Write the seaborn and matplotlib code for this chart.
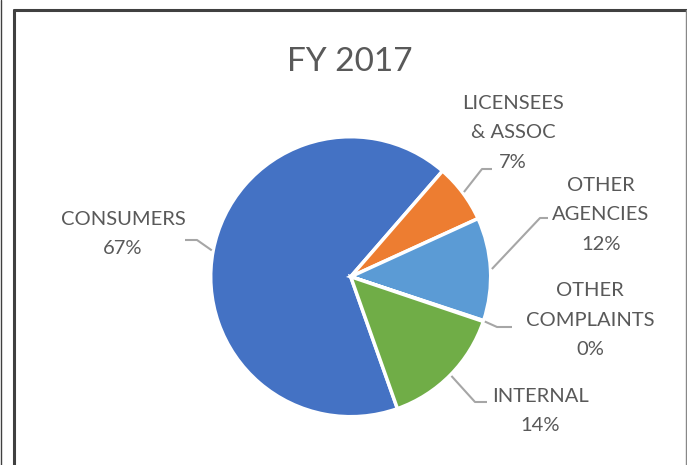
import matplotlib
matplotlib.use("Agg")
import matplotlib.pyplot as plt
import numpy as np
import seaborn as sns
from matplotlib.lines import Line2D

# data (share of complaints, FY 2017)
categories = ["CONSUMERS", "LICENSEES\n& ASSOC", "OTHER\nAGENCIES", "OTHER\nCOMPLAINTS", "INTERNAL"]
shares = [66.8, 6.8, 11.9, 0.1, 14.4]
colors = ["#4472C4", "#ED7D31", "#5B9BD5", "#A5A5A5", "#70AD47"]
title = "FY 2017"

sns.set_theme(style="white")
plt.rcParams["font.family"] = ["Lato", "DejaVu Sans"]

W, H = 687, 465
fig = plt.figure(figsize=(W / 100, H / 100), dpi=100)
ax = fig.add_axes([0, 0, 1, 1])
ax.set_xlim(0, W)
ax.set_ylim(0, H)
ax.set_aspect("equal")
ax.axis("off")

# pie geometry in pixel space (y measured from top of image)
cx, cy, r = 350.7, 276.7, 140
wedges, _ = ax.pie(shares, colors=colors, startangle=-70.5, counterclock=False,
                   center=(cx, H - cy), radius=r,
                   wedgeprops=dict(edgecolor="white", linewidth=2.5))
ax.set_xlim(0, W)
ax.set_ylim(0, H)

# label layout: text center (x, y), elbow (x, y), leader end x
layout = [
    (123, 234, 197, 240, 185),
    (513, 133, 482, 169, 492),
    (601, 215, 540, 218, 548),
    (590, 320, 497, 327, 512),
    (540, 411, 475, 402, 487),
]
grey = "#595959"
for w, cat, val, (tx, ty, ex, ey, endx) in zip(wedges, categories, shares, layout):
    mid = np.deg2rad((w.theta1 + w.theta2) / 2)
    sx = cx + r * 1.01 * np.cos(mid)
    sy = cy - r * 1.01 * np.sin(mid)
    ax.plot([sx, ex, endx], [H - sy, H - ey, H - ey], color="#A6A6A6", lw=1.5,
            solid_capstyle="butt")
    ax.text(tx, H - ty, f"{cat}\n{round(val):.0f}%", ha="center", va="center",
            fontsize=14.5, color=grey, linespacing=1.9)

ax.text(W / 2 + 6, H - 62, title, ha="center", va="center", fontsize=24, color=grey)

# chart frame
frame = dict(transform=fig.transFigure, figure=fig)
fig.lines.append(Line2D([13.5 / W, 13.5 / W], [0, 1 - 10 / H], color="#404040", lw=2.2, **frame))
fig.lines.append(Line2D([13.5 / W, 1], [1 - 10.5 / H, 1 - 10.5 / H], color="#404040", lw=2.2, **frame))
fig.lines.append(Line2D([686 / W, 686 / W], [0, 1 - 10 / H], color="#888888", lw=1.0, **frame))
fig.lines.append(Line2D([0.7 / W, 0.7 / W], [0, 1], color="#404040", lw=1.0, **frame))

fig.savefig("out.png", dpi=100)
